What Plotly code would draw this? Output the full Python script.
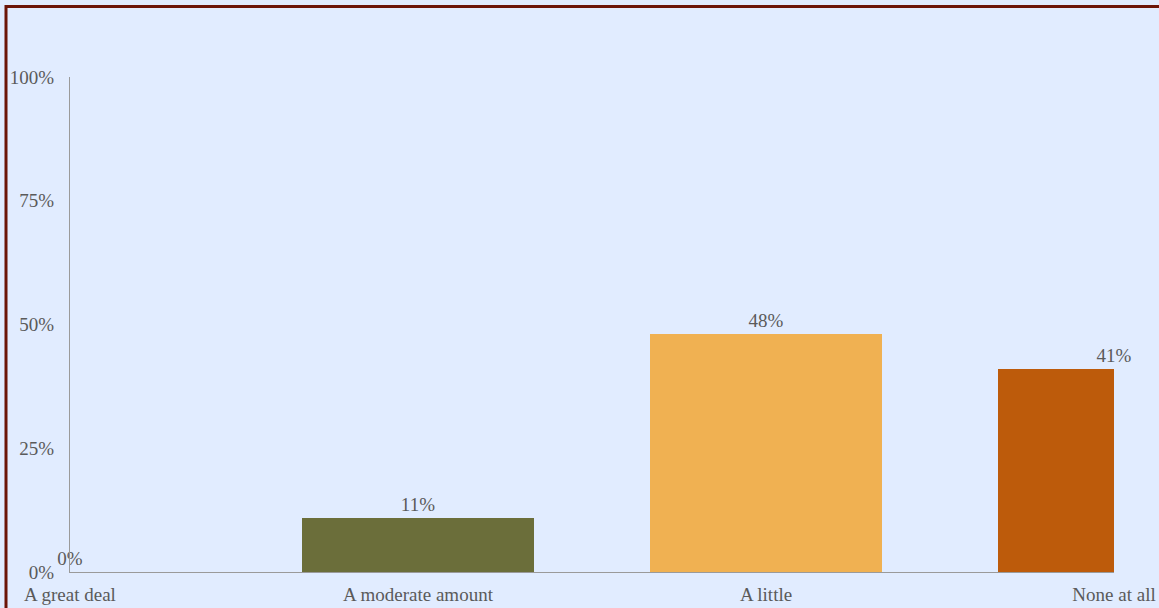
import plotly.graph_objects as go

categories = ["A great deal", "A moderate amount", "A little", "None at all"]
values = [0, 11, 48, 41]
colors = ["#6B6E3A", "#6B6E3A", "#F0B152", "#BD5B0B"]
y_ticks = [0, 25, 50, 75, 100]
y_tick_labels = ["0%", "25%", "50%", "75%", "100%"]

W, H = 1159, 608
L, R, T, B = 70, 45, 77, 36
pw, ph = W - L - R, H - T - B

x_pos = list(range(len(categories)))

fig = go.Figure(go.Bar(
    x=x_pos, y=values,
    width=0.667,
    marker=dict(color=colors, line=dict(width=0)),
    text=[f"{v}%" for v in values],
    textposition="outside",
    textfont=dict(family="Liberation Serif", size=19, color="#5a5a5a"),
    cliponaxis=False,
    hoverinfo="skip",
))

bg = "#E1ECFF"
fig.update_layout(
    width=W, height=H,
    margin=dict(l=L, r=R, t=T, b=B, pad=0, autoexpand=False),
    paper_bgcolor=bg, plot_bgcolor=bg,
    font=dict(family="Liberation Serif", size=19, color="#5a5a5a"),
    showlegend=False,
    bargap=0,
    xaxis=dict(
        range=[0, 3], tickvals=x_pos, ticktext=categories, automargin=False,
        showgrid=False, zeroline=False, showline=True, linecolor="#9a9a9a", linewidth=1,
        ticks="", ticklabelstandoff=5, fixedrange=True,
    ),
    yaxis=dict(
        range=[0, 100], tickvals=y_ticks, ticktext=y_tick_labels, automargin=False,
        showgrid=False, zeroline=False, showline=True, linecolor="#9a9a9a", linewidth=1,
        ticks="", ticklabelstandoff=11, fixedrange=True,
    ),
    shapes=[
        dict(type="rect", xref="paper", yref="paper",
             x0=(6 - L) / pw, x1=(W + 20 - L) / pw,
             y0=(H - B - (H + 20)) / ph, y1=(H - B - 6.5) / ph,
             line=dict(color="#6B1508", width=3), fillcolor="rgba(0,0,0,0)",
             layer="above"),
    ],
)

fig.write_html("out.html")
